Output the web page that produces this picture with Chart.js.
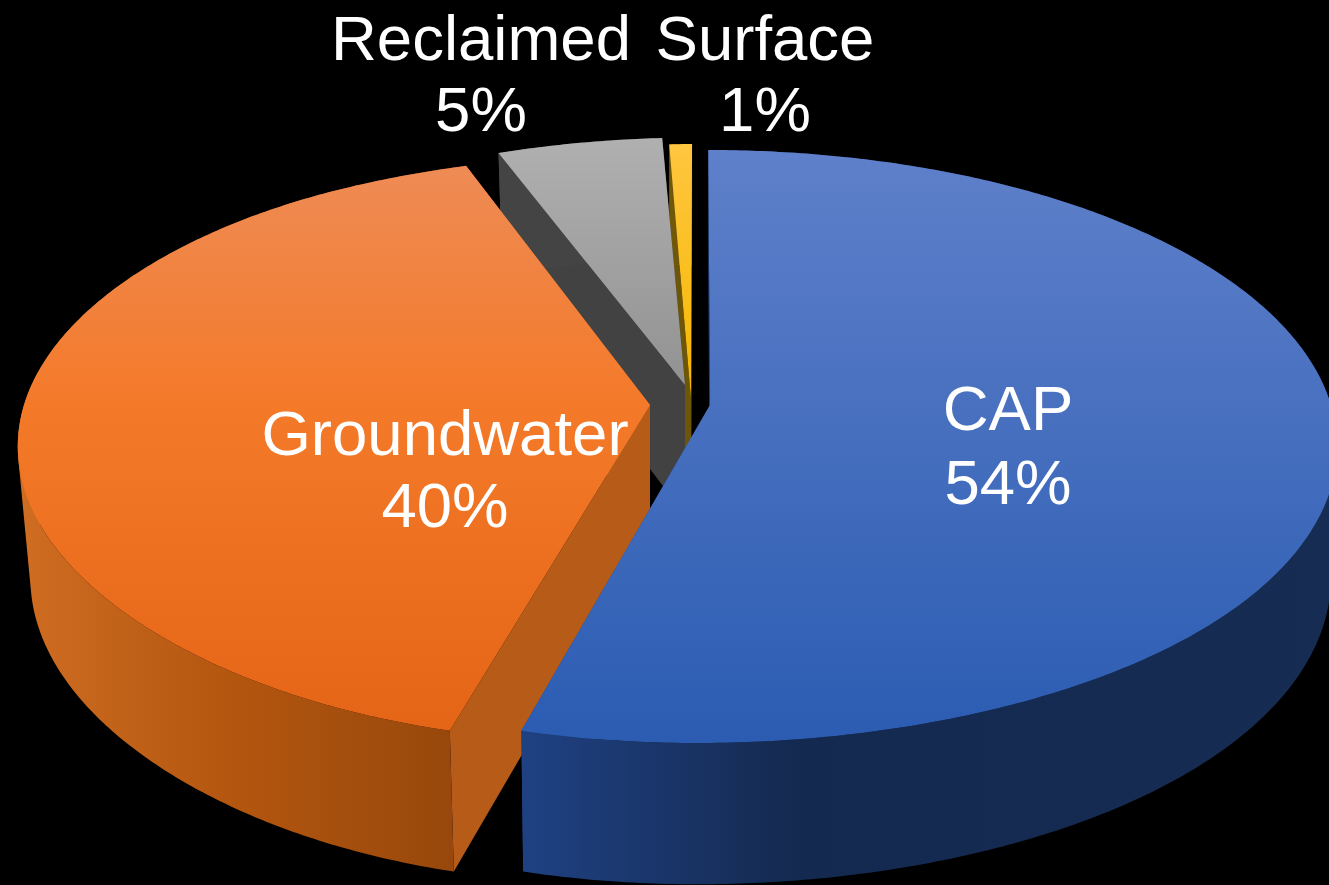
<!DOCTYPE html>
<html>
<head>
<meta charset="utf-8">
<title>Water supply pie</title>
<script src="https://cdn.jsdelivr.net/npm/chart.js@4"></script>
<style>
  html, body { margin: 0; padding: 0; background: #000; overflow: hidden; }
  canvas { display: block; }
</style>
</head>
<body>
<canvas id="pieChart" width="1329" height="885"></canvas>
<script>
// ----------- DATA -----------
const categories = ['CAP', 'Groundwater', 'Reclaimed', 'Surface'];
const shares = [54, 40, 5, 1];

// ----------- LOOK OF EACH SLICE (same order as categories) -----------
// ax/ay = exploded centre, rx/ry = size of slice, front/back = lean, low = shrink of lower edge
const sliceLook = [
  { ax: 710, ay: 405, rx: 621, ry: 290.7, front: 10.5, back: -2, low: 0.99,
    top: [[150, '#5f80ca'], [743, '#2b5cb2']], rim: [[522, '#1f4182'], [800, '#14294f'], [1329, '#172c53']], wall: '#1f4182' },
  { ax: 650, ay: 405, rx: 626, ry: 290.7, front: 21, back: 54, low: 0.98,
    top: [[165, '#ee8b55'], [400, '#f47a2a'], [728, '#e46515']], rim: [[20, '#cf6d22'], [233, '#b3560f'], [450, '#98480c']], wall: '#b75b18' },
  { ax: 685, ay: 385, rx: 585, ry: 282, front: 0, back: 11, low: 0.98,
    top: [[137, '#b0b0b0'], [385, '#929292']], rim: [[498, '#444444'], [688, '#444444']], wall: '#424242' },
  { ax: 691, ay: 399, rx: 414, ry: 290.7, front: 0, back: 1.2, low: 0.98,
    top: [[143, '#ffc640'], [399, '#f5b800']], rim: [[669, '#705808'], [692, '#705808']], wall: '#6e5608' }
];
// label centre x, first baseline, second baseline
const labelSpots = [
  [1008, 430, 504],
  [445, 455, 527],
  [481, 60, 131],
  [765, 60, 131]
];

// ----------- PIE GEOMETRY -----------
const PERSP = 0.14;    // nearer part of the pie looks bigger
const DEPTH = 130;     // thickness of the pie
const FRONT_CURVE = 6; // lean only shows near the cut edges
const BACK_CURVE = 12;

function project(look, theta, lower) {
  const u = Math.sin(theta);
  const v = -Math.cos(theta);
  const s = 1 / (1 - PERSP * v);
  const lean = v > 0
    ? look.front * Math.pow(v, FRONT_CURVE)
    : -look.back * Math.pow(-v, BACK_CURVE);
  let x = (look.rx * u - lean) * s;
  let y = look.ay + look.ry * v * s;
  if (lower) {
    x = x * look.low;
    y = y + DEPTH * Math.pow(s, 0.55);
  }
  return { x: look.ax + x, y: y };
}

function apex(look, lower) {
  return { x: look.ax, y: look.ay + (lower ? DEPTH : 0) };
}

function arcPoints(look, a0, a1, lower) {
  const pts = [];
  const steps = Math.max(2, Math.ceil((a1 - a0) / 0.01));
  for (let i = 0; i <= steps; i++) {
    pts.push(project(look, a0 + (a1 - a0) * i / steps, lower));
  }
  return pts;
}

function fillPoly(ctx, pts, fill) {
  ctx.beginPath();
  pts.forEach((p, i) => (i === 0 ? ctx.moveTo(p.x, p.y) : ctx.lineTo(p.x, p.y)));
  ctx.closePath();
  ctx.fillStyle = fill;
  ctx.fill();
}

function quadArea(q) {
  let sum = 0;
  q.forEach((p, i) => {
    const n = q[(i + 1) % q.length];
    sum += p.x * n.y - n.x * p.y;
  });
  return sum;
}

// The outer side: one quad per step, all wound the same way, so the part
// between the upper and lower arcs at the far left and right gets filled too
function fillRim(ctx, upper, below, fill) {
  ctx.beginPath();
  for (let i = 0; i < upper.length - 1; i++) {
    let q = [upper[i], upper[i + 1], below[i + 1], below[i]];
    if (quadArea(q) < 0) q = q.reverse();
    q.forEach((p, k) => (k === 0 ? ctx.moveTo(p.x, p.y) : ctx.lineTo(p.x, p.y)));
    ctx.closePath();
  }
  ctx.fillStyle = fill;
  ctx.fill();
}

function gradient(ctx, stops, vertical) {
  const first = stops[0][0];
  const last = stops[stops.length - 1][0];
  const g = vertical ? ctx.createLinearGradient(0, first, 0, last) : ctx.createLinearGradient(first, 0, last, 0);
  stops.forEach(st => g.addColorStop((st[0] - first) / (last - first), st[1]));
  return g;
}

// Draws the arcs Chart.js worked out as tilted 3D slices
const tiltedPie = {
  id: 'tiltedPie',
  beforeDatasetDraw(chart, args) {
    const ctx = chart.ctx;
    const arcs = args.meta.data;
    ctx.save();
    // back slices first so the big ones sit on top of them
    for (let i = arcs.length - 1; i >= 0; i--) {
      const look = sliceLook[i];
      const a0 = arcs[i].startAngle + Math.PI / 2;
      const a1 = arcs[i].endAngle + Math.PI / 2;

      fillPoly(ctx, [apex(look, false), project(look, a0, false), project(look, a0, true), apex(look, true)], look.wall);
      fillPoly(ctx, [apex(look, false), project(look, a1, false), project(look, a1, true), apex(look, true)], look.wall);

      const upper = arcPoints(look, a0, a1, false);
      const below = arcPoints(look, a0, a1, true);
      fillRim(ctx, upper, below, gradient(ctx, look.rim, false));
      fillPoly(ctx, [apex(look, false)].concat(upper), gradient(ctx, look.top, true));
    }
    ctx.restore();
    return false;
  },
  afterDatasetsDraw(chart) {
    const ctx = chart.ctx;
    ctx.save();
    ctx.fillStyle = '#ffffff';
    ctx.font = '63.5px "Liberation Sans", Arial, sans-serif';
    ctx.textAlign = 'center';
    ctx.textBaseline = 'alphabetic';
    categories.forEach((name, i) => {
      const spot = labelSpots[i];
      ctx.fillText(name, spot[0], spot[1]);
      ctx.fillText(shares[i] + '%', spot[0], spot[2]);
    });
    ctx.restore();
  }
};

// ----------- CHART SETUP -----------
const pieCtx = document.getElementById('pieChart').getContext('2d');
const pieChart = new Chart(pieCtx, {
  type: 'pie',
  data: {
    labels: categories,
    datasets: [{ data: shares, borderWidth: 0 }]
  },
  options: {
    responsive: false,
    animation: false,
    plugins: { legend: { display: false }, tooltip: { enabled: false } }
  },
  plugins: [tiltedPie]
});
</script>
</body>
</html>
